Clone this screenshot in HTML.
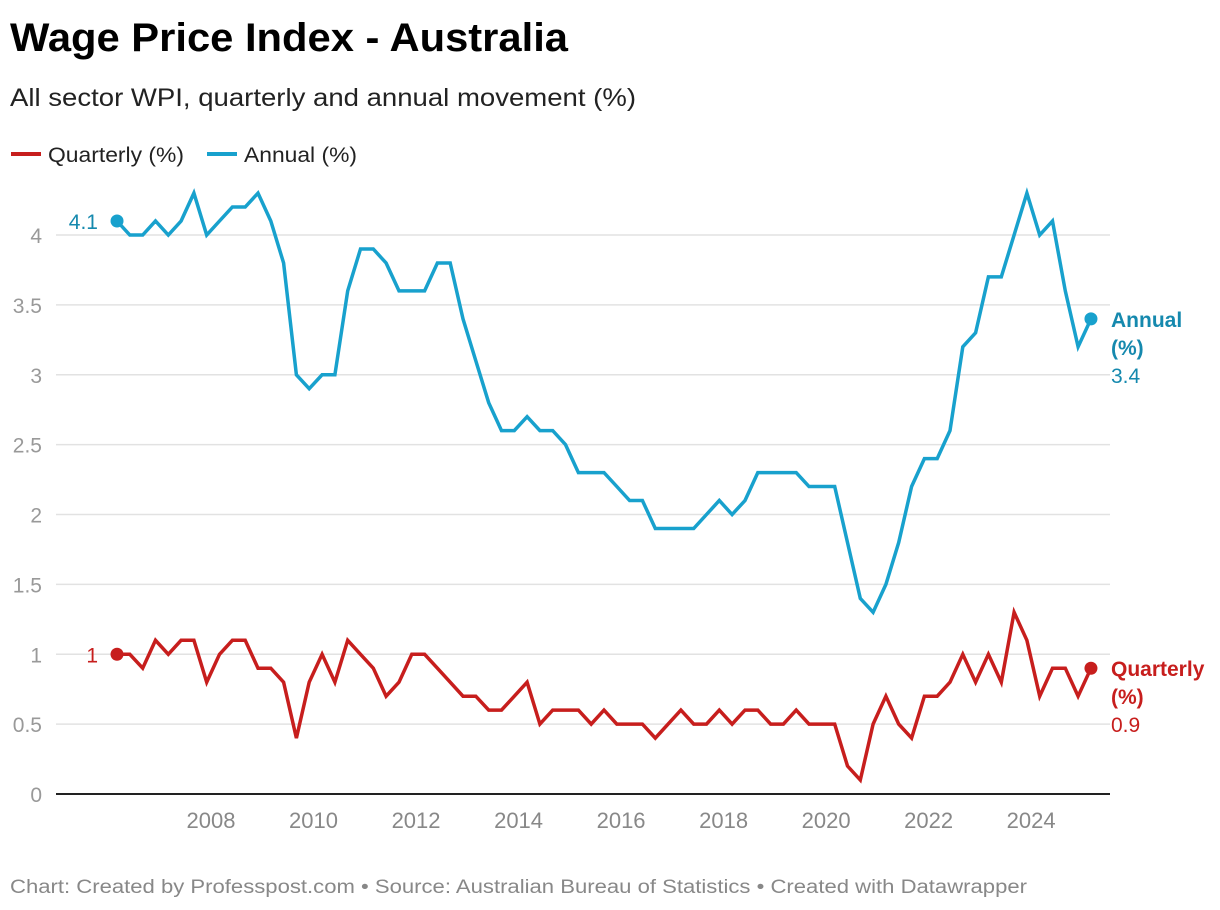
<!DOCTYPE html>
<html><head><meta charset="utf-8"><style>
body{margin:0;background:#fff;width:1220px;height:910px;overflow:hidden;font-family:"Liberation Sans",sans-serif}
svg{display:block}
</style></head><body>
<svg id="chart" width="1220" height="910" xmlns="http://www.w3.org/2000/svg" font-family="Liberation Sans, sans-serif">
<text x="10" y="51" font-size="40" font-weight="bold" fill="#000" textLength="558" lengthAdjust="spacingAndGlyphs">Wage Price Index - Australia</text>
<text x="10" y="106" font-size="25" fill="#222" textLength="626" lengthAdjust="spacingAndGlyphs">All sector WPI, quarterly and annual movement (%)</text>
<g>
<line x1="11" y1="154" x2="41" y2="154" stroke="#c71e1d" stroke-width="4"/>
<text x="48" y="162" font-size="21" fill="#222" textLength="136" lengthAdjust="spacingAndGlyphs">Quarterly (%)</text>
<line x1="207" y1="154" x2="237" y2="154" stroke="#18a1cd" stroke-width="4"/>
<text x="244" y="162" font-size="21" fill="#222" textLength="113" lengthAdjust="spacingAndGlyphs">Annual (%)</text>
</g>
<g id="grid"></g><g id="xaxis"></g><g id="series"></g><g id="labels"></g>
<text x="10" y="893" font-size="19" fill="#888" textLength="1017" lengthAdjust="spacingAndGlyphs">Chart: Created by Professpost.com  • Source: Australian Bureau of Statistics  • Created with Datawrapper</text>
</svg>
<script>
const annual = [4.1,4.0,4.0,4.1,4.0,4.1,4.3,4.0,4.1,4.2,4.2,4.3,4.1,3.8,3.0,2.9,3.0,3.0,3.6,3.9,3.9,3.8,3.6,3.6,3.6,3.8,3.8,3.4,3.1,2.8,2.6,2.6,2.7,2.6,2.6,2.5,2.3,2.3,2.3,2.2,2.1,2.1,1.9,1.9,1.9,1.9,2.0,2.1,2.0,2.1,2.3,2.3,2.3,2.3,2.2,2.2,2.2,1.8,1.4,1.3,1.5,1.8,2.2,2.4,2.4,2.6,3.2,3.3,3.7,3.7,4.0,4.3,4.0,4.1,3.6,3.2,3.4];
const quarterly = [1.0,1.0,0.9,1.1,1.0,1.1,1.1,0.8,1.0,1.1,1.1,0.9,0.9,0.8,0.4,0.8,1.0,0.8,1.1,1.0,0.9,0.7,0.8,1.0,1.0,0.9,0.8,0.7,0.7,0.6,0.6,0.7,0.8,0.5,0.6,0.6,0.6,0.5,0.6,0.5,0.5,0.5,0.4,0.5,0.6,0.5,0.5,0.6,0.5,0.6,0.6,0.5,0.5,0.6,0.5,0.5,0.5,0.2,0.1,0.5,0.7,0.5,0.4,0.7,0.7,0.8,1.0,0.8,1.0,0.8,1.3,1.1,0.7,0.9,0.9,0.7,0.9];
const yTicks = [0,0.5,1,1.5,2,2.5,3,3.5,4];
const yTickLabels = ["0","0.5","1","1.5","2","2.5","3","3.5","4"];
const xTicks = [2008,2010,2012,2014,2016,2018,2020,2022,2024];
const startYear = 2006 + 2/12;

const NS="http://www.w3.org/2000/svg";
const X = t => 211 + (t-2008)*51.26;
const Y = v => 794 - v*139.75;
const tOf = i => startYear + i/4;
function mk(tag, attrs, parent){const e=document.createElementNS(NS,tag);for(const k in attrs)e.setAttribute(k,attrs[k]);parent.appendChild(e);return e;}
const grid=document.getElementById('grid'), xa=document.getElementById('xaxis'), ser=document.getElementById('series'), lab=document.getElementById('labels');
yTicks.forEach((v,i)=>{
  if(v!==0){const l=mk('line',{x1:56,x2:1110,y1:Y(v),y2:Y(v),stroke:'#e2e2e2','stroke-width':1.5},grid);
  
  }
  const t=mk('text',{x:42,y:Y(v)+8,'text-anchor':'end','font-size':21,fill:'#999'},grid);
  
  
  t.textContent=yTickLabels[i];
});
const base=mk('line',{x1:56,x2:1110,y1:794,y2:794,stroke:'#222','stroke-width':2},xa);


xTicks.forEach(y=>{
  const t=mk('text',{x:X(y),y:828,'text-anchor':'middle','font-size':22,fill:'#888'},xa);
  
  
  t.textContent=y;
});
function line(data,color,name){
  const d=data.map((v,i)=>(i?'L':'M')+X(tOf(i)).toFixed(1)+' '+Y(v).toFixed(1)).join(' ');
  const p=mk('path',{d:d,fill:'none',stroke:color,'stroke-width':3.5,'stroke-linejoin':'miter'},ser);
  
  
  const c0=mk('circle',{cx:X(tOf(0)),cy:Y(data[0]),r:6.5,fill:color},ser);
  
  
  const n=data.length-1;
  const c1=mk('circle',{cx:X(tOf(n)),cy:Y(data[n]),r:6.5,fill:color},ser);
  
  
}
line(annual,'#18a1cd','annual');
line(quarterly,'#c71e1d','quarterly');
function txt(x,y,s,color,bold,anchor,name){
  const t=mk('text',{x:x,y:y,'font-size':21,fill:color,'text-anchor':anchor||'start','font-weight':bold?'bold':'normal'},lab);
  
  
  t.textContent=s;
}
const aN=annual.length-1, qN=quarterly.length-1;
txt(98,Y(annual[0])+8,String(annual[0]),'#1589ae',false,'end','annual-start-label');
txt(98,Y(quarterly[0])+8,String(quarterly[0]),'#c71e1d',false,'end','quarterly-start-label');
const ay=Y(annual[aN]);
txt(1111,ay+8,'Annual','#1589ae',true,'start','annual-end-label');
txt(1111,ay+36,'(%)','#1589ae',true,'start','annual-end-label-unit');
txt(1111,ay+64,annual[aN].toFixed(1),'#1589ae',false,'start','annual-end-value');
const qy=Y(quarterly[qN]);
txt(1111,qy+8,'Quarterly','#c71e1d',true,'start','quarterly-end-label');
txt(1111,qy+36,'(%)','#c71e1d',true,'start','quarterly-end-label-unit');
txt(1111,qy+64,quarterly[qN].toFixed(1),'#c71e1d',false,'start','quarterly-end-value');
</script>
</body></html>
